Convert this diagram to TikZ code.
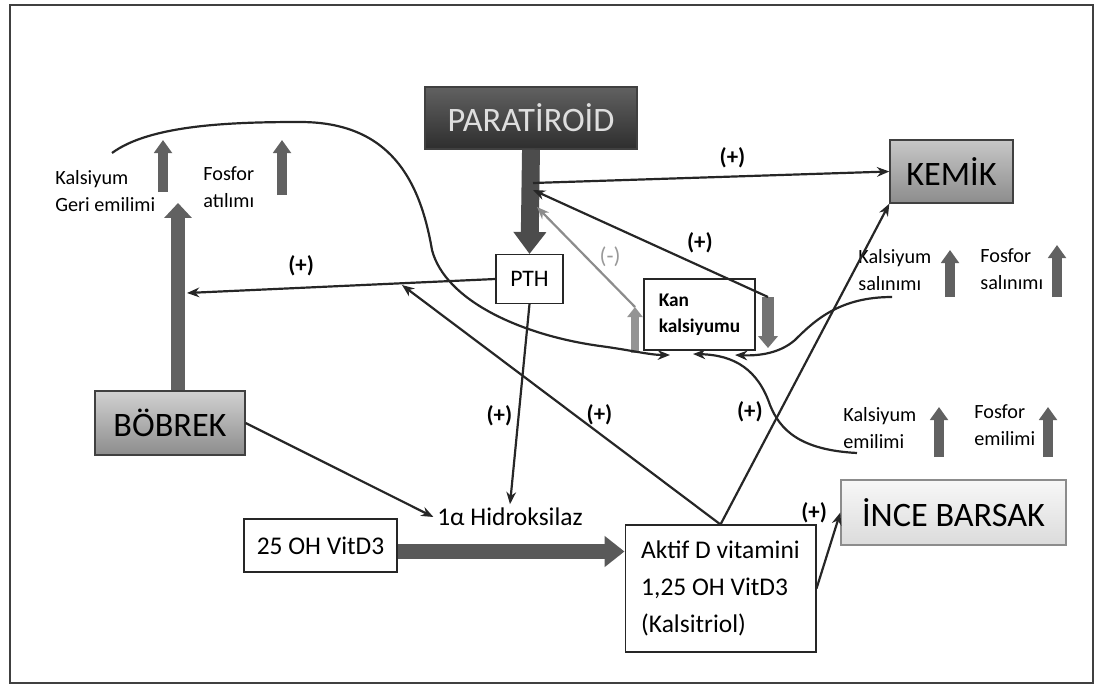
\documentclass[tikz,border=0pt]{standalone}
\usepackage{fontspec}
\setmainfont{Carlito}
\usepackage{tikz}
\usetikzlibrary{positioning, arrows.meta}

\tikzset{
  organ/.style={draw=black!75, thick, inner sep=0pt, font=\fontsize{19.5}{22}\selectfont},
  plainbox/.style={draw=black!85, semithick, fill=white, inner sep=0pt},
  conn/.style={draw=black!85, line width=1.25pt, -{Stealth[length=7pt, width=5.5pt]}},
  plus/.style={font=\bfseries\fontsize{13}{15}\selectfont, inner sep=1pt},
  note/.style={align=left, inner sep=0pt, font=\fontsize{11.5}{15.5}\selectfont},
  uparr/.style={black!62, line width=5.7pt, -{Triangle[length=7.4pt, width=10pt]}},
}

\begin{document}
\begin{tikzpicture}[x=0.02cm, y=-0.02cm]
    \useasboundingbox (0,0) rectangle (1098,686);
    % Frame
    \draw[black!75, line width=1.5pt] (10,5) rectangle (1093,683);

    % Organs
    \node[organ, top color=black!62, bottom color=black!82, text=black!13,
          minimum width=4.24cm, minimum height=1.24cm] (par) at (531,118) {PARATİROİD};
    \node[organ, top color=black!22, bottom color=black!45,
          minimum width=2.46cm, minimum height=1.26cm] (kemik) at (951.5,171.5) {KEMİK};
    \node[organ, top color=black!18, bottom color=black!45,
          minimum width=3cm, minimum height=1.28cm] (bobrek) at (170,423) {BÖBREK};
    \node[organ, draw=black!45, top color=black!3, bottom color=black!14,
          minimum width=4.5cm, minimum height=1.3cm] (ince) at (953.5,512.5) {İNCE BARSAK};

    % Boxes
    \node[plainbox, minimum width=1.34cm, minimum height=0.98cm,
          font=\fontsize{13.5}{16}\selectfont] (pth) at (529.5,279) {PTH};
    \node[plainbox, minimum width=2.22cm, minimum height=1.42cm, align=left,
          font=\bfseries\fontsize{11}{14.7}\selectfont] (kan) at (699.5,314.5) {Kan\\kalsiyumu};
    \node[plainbox, minimum width=3.06cm, minimum height=1.06cm,
          font=\fontsize{14.5}{17}\selectfont] (vit) at (320.5,545.5) {25 OH VitD3};
    \node[plainbox, minimum width=3.82cm, minimum height=2.54cm, align=left,
          font=\fontsize{14.5}{21}\selectfont] (aktif) at (720.5,588.5)
          {Aktif D vitamini\\1,25 OH VitD3\\(Kalsitriol)};
    \node[font=\fontsize{14.5}{17}\selectfont, inner sep=2pt] (hidr) at (510,517) {1α Hidroksilaz};

    % Effect labels
    \node[note, anchor=west] (kgeri) at (55,191) {Kalsiyum\\Geri emilimi};
    \node[note, anchor=west] (fatil) at (203,187) {Fosfor\\atılımı};
    \node[note, anchor=west] (ksalin) at (858,270) {Kalsiyum\\salınımı};
    \node[note, anchor=west] (fsalin) at (980,269) {Fosfor\\salınımı};
    \node[note, anchor=west] (kemil) at (843,428) {Kalsiyum\\emilimi};
    \node[note, anchor=west] (femil) at (974,425) {Fosfor\\emilimi};

    \foreach \x/\ya/\yb in {163/192/140, 282/195/140, 950/297/250,
                            1057/297/245, 939/457/407, 1048/457/407}
      \draw[uparr] (\x,\ya) -- (\x,\yb);

    % Points on the lines
    \coordinate (parmid) at (533,183);
    \coordinate (parin) at (533,190);
    \coordinate (parneg) at (537,207);
    \coordinate (bshaft) at (187,293);
    \coordinate (pthline) at (402,285);
    \coordinate (kgtip) at (178,203);
    \coordinate (kutop) at (635,307);
    \coordinate (kdtop) at (768,297);

    % Block arrows
    \draw[black!70, line width=10.2pt, -{Triangle[length=12.5pt, width=18pt]}]
      (par.south) -- (pth.north);
    \draw[black!62, line width=8.5pt, -{Triangle[length=8.5pt, width=15.3pt]}]
      (bobrek.north -| kgtip) -- (kgtip);
    \draw[black!65, line width=9pt, -{Triangle[length=11.3pt, width=17pt]}]
      ([yshift=-0.12cm]vit.east) -- ([yshift=-0.12cm]vit.east -| aktif.west);
    \draw[black!42, line width=4.5pt, -{Triangle[length=5.7pt, width=8.5pt]}]
      (635,353) -- (kutop);
    \draw[black!55, line width=6.8pt, -{Triangle[length=6.8pt, width=11pt]}]
      (kdtop) -- (768,348);

    % Connectors
    \draw[conn] (parmid) -- (kemik.west) node[plus, pos=0.56, above=3pt] {(+)};
    \draw[conn] (kdtop) -- (parin) node[plus, pos=0.29, above=6pt] {(+)};
    \draw[conn, draw=black!45] (kutop) -- (parneg)
      node[plus, pos=0.3, above right=4pt and -5pt, text=black!40, font=\fontsize{13}{15}\selectfont] {(-)};
    \draw[conn] (pth.west) -- (bshaft) node[plus, pos=0.63, above=5pt] {(+)};
    \draw[conn] (pth.south) -- (hidr.north) node[plus, pos=0.56, left=2pt] {(+)};
    \draw[conn] (bobrek.east) -- (hidr.west);
    \draw[conn] (aktif.north) -- (pthline) node[plus, pos=0.38, above=3pt] {(+)};
    \draw[conn] (aktif.north) -- (kemik.south west) node[plus, pos=0.35, left=8pt] {(+)};
    \draw[conn] (aktif.east) -- (ince.west) node[plus, pos=1, left=6pt] {(+)};

    % Curves into blood calcium
    \draw[conn] (112,153) .. controls (150,125) and (230,122) .. (300,122)
      .. controls (390,122) and (420,180) .. (432,250)
      .. controls (445,300) and (520,335) .. (600,346)
      .. controls (630,350) and (650,355) .. (670,355);
    \draw[conn] (892,297) .. controls (840,297) and (815,320) .. (795,340)
      .. controls (780,353) and (760,356) .. (735,355);
    \draw[conn] (857,453) .. controls (800,450) and (780,430) .. (770,405)
      .. controls (758,370) and (735,355) .. (693,354);
\end{tikzpicture}
\end{document}
